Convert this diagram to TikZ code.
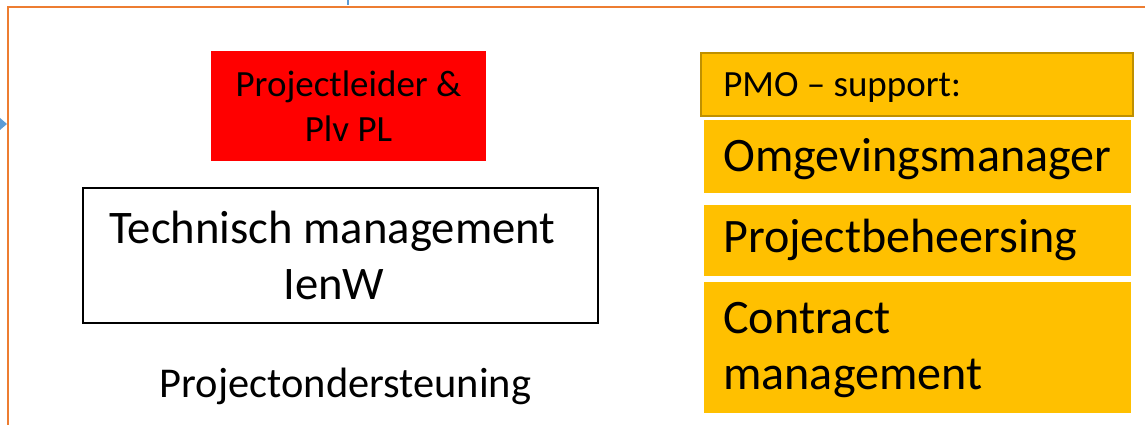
\documentclass[tikz,border=0pt]{standalone}
\usepackage{fontspec}
\setmainfont{Carlito}
\usepackage{tikz}
\usetikzlibrary{positioning}
\definecolor{frameorange}{HTML}{ED7D31}
\definecolor{lineblue}{HTML}{5B9BD5}
\definecolor{pmo}{HTML}{FFC000}
\definecolor{pmoborder}{HTML}{BF9000}
\tikzset{>=latex}
\newcommand{\bigsize}{\fontsize{33.2}{40}\selectfont}
\newcommand{\pmosize}{\fontsize{34.2}{40}\selectfont}
\newcommand{\midsize}{\fontsize{26.3}{32}\selectfont}

\begin{document}
\begin{tikzpicture}[scale=1,
  pmotext/.style={anchor=base west, inner sep=0, font=\pmosize}]
\clip (0,0) rectangle (28.625,10.625);
\draw[frameorange, line width=2.1pt] (0.2,-0.5) -- (0.2,10.45) -- (29,10.45);
\draw[lineblue, line width=1pt] (8.7,10.7) -- (8.7,10.5);
\fill[lineblue] (0,7.675) -- (0.175,7.525) -- (0,7.375);
\node[fill=red, minimum width=6.875cm, minimum height=2.75cm, align=center, font=\midsize] (pl) at (8.7125,7.975) {Projectleider \&\\Plv PL};
\node[draw, line width=1pt, minimum width=12.875cm, minimum height=3.375cm, align=center, font=\bigsize] (tm) at (8.5125,4.2375) {Technisch management\hspace*{0.35em}\\IenW\hspace*{0.28em}};
\node[anchor=base, inner sep=0, font=\fontsize{30.2}{36}\selectfont] (po) at (8.6375,0.675) {Projectondersteuning};
% PMO column
\draw[draw=pmoborder, fill=pmo, line width=1.4pt] (17.525,9.3) rectangle (28.325,7.725);
\node[pmotext, font=\midsize] (support) at (18.075,8.2) {PMO -- support:};
\fill[pmo] (17.6,7.625) rectangle (28.275,5.8);
\node[pmotext] (omgev) at (18.075,6.325) {Omgevingsmanager};
\fill[pmo] (17.6,5.5) rectangle (28.275,3.725);
\node[pmotext] (beheers) at (18.075,4.3) {Projectbeheersing};
\fill[pmo] (17.6,3.575) rectangle (28.275,0.3);
\node[pmotext, align=left] (contract) at (18.075,0.875) {Contract\\management};
\end{tikzpicture}
\end{document}
